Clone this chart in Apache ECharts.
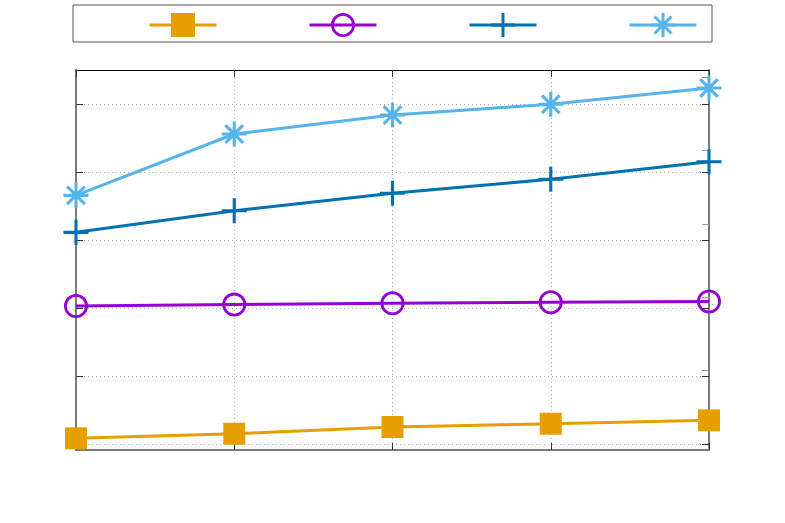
<!DOCTYPE html>
<html>
<head>
<meta charset="utf-8">
<script src="https://cdn.jsdelivr.net/npm/echarts@6/dist/echarts.min.js"></script>
<style>
  html, body { margin: 0; padding: 0; background: #fff; }
  #chart { width: 785px; height: 523px; }
</style>
</head>
<body>
<div id="chart"></div>
<script>
// data
var categories = ['1', '2', '3', '4', '5'];
var yTicks = [0, 1, 2, 3, 4, 5];
var y2Ticks = [0, 1, 2, 3, 4, 5];
var orangeVals = [0.084, 0.151, 0.25, 0.298, 0.348];
var purpleVals = [2.03, 2.05, 2.07, 2.085, 2.095];
var blueVals = [3.113, 3.431, 3.687, 3.893, 4.151];
var skyVals = [3.657, 4.559, 4.838, 4.996, 5.235];

// marker shapes (gnuplot style)
var ringPath = 'path://M12,0A12,12 0 1,1 -12,0A12,12 0 1,1 12,0ZM9.2,0A9.2,9.2 0 1,0 -9.2,0A9.2,9.2 0 1,0 9.2,0Z';
var plusPath = 'path://M-1.5,-12h3v10.5h10.5v3h-10.5v10.5h-3v-10.5h-10.5v-3h10.5z';
var starPath = 'path://M-12,-1.5L12,-1.5L12,1.5L-12,1.5Z' +
  'M-1.5,-12L1.5,-12L1.5,12L-1.5,12Z' +
  'M-9.546,-7.425L-7.425,-9.546L9.546,7.425L7.425,9.546Z' +
  'M7.425,-9.546L9.546,-7.425L-7.425,9.546L-9.546,7.425Z';

var chart = echarts.init(document.getElementById('chart'), null, { renderer: 'canvas' });

function lineSeries(name, vals, color, symbol, size, yIdx) {
  return {
    name: name,
    type: 'line',
    data: vals,
    yAxisIndex: yIdx || 0,
    symbol: symbol,
    symbolSize: size,
    showAllSymbol: true,
    lineStyle: { color: color, width: 3 },
    itemStyle: { color: color },
    emphasis: { disabled: true }
  };
}

var axisGrey = { color: '#7a7a7a', width: 2 };
var gridLine = { show: true, lineStyle: { type: [1, 3], color: '#b0b0b0', width: 1 } };

var option = {
  animation: false,
  grid: { left: 76, top: 70, width: 633, height: 380 },
  legend: {
    left: 73,
    top: 5,
    orient: 'horizontal',
    itemWidth: 67,
    itemHeight: 30,
    itemGap: 90,
    padding: [5, 14, 5, 75],
    borderColor: '#555',
    borderWidth: 1,
    lineStyle: { width: 3 },
    formatter: function () { return ''; },
    data: ['a', 'b', 'c', 'd']
  },
  xAxis: [{
    type: 'category',
    data: categories,
    boundaryGap: false,
    axisLine: { onZero: false, lineStyle: axisGrey },
    axisTick: { inside: true, length: 7, lineStyle: { color: '#333' } },
    axisLabel: { show: false },
    splitLine: gridLine
  }, {
    type: 'category',
    data: categories,
    position: 'top',
    boundaryGap: false,
    axisLine: { onZero: false, lineStyle: { color: '#000', width: 1 } },
    axisTick: { inside: true, length: 7, lineStyle: { color: '#333' } },
    axisLabel: { show: false },
    splitLine: { show: false }
  }],
  yAxis: [{
    type: 'value',
    min: -0.088,
    max: 5.5,
    position: 'left',
    axisLine: { show: true, onZero: false, lineStyle: axisGrey },
    axisTick: { show: true, inside: true, length: 7, customValues: yTicks, lineStyle: { color: '#333' } },
    axisLabel: { show: false, customValues: yTicks },
    splitLine: gridLine
  }, {
    type: 'value',
    min: -0.0818,
    max: 5.1,
    position: 'right',
    axisLine: { show: true, onZero: false, lineStyle: axisGrey },
    axisTick: { show: true, inside: true, length: 7, customValues: y2Ticks, lineStyle: { color: '#999' } },
    axisLabel: { show: false, customValues: y2Ticks },
    splitLine: { show: false }
  }, {
    type: 'value',
    min: -0.088,
    max: 5.5,
    position: 'right',
    axisLine: { show: false },
    axisTick: { show: true, inside: true, length: 7, customValues: yTicks, lineStyle: { color: '#333' } },
    axisLabel: { show: false, customValues: yTicks },
    splitLine: { show: false }
  }],
  series: [
    lineSeries('a', orangeVals, '#E69F00', 'rect', 22),
    lineSeries('b', purpleVals, '#9400D3', ringPath, 24),
    lineSeries('c', blueVals, '#0072B2', plusPath, 25),
    lineSeries('d', skyVals, '#56B4E9', starPath, 25)
  ]
};

chart.setOption(option);
</script>
</body>
</html>
